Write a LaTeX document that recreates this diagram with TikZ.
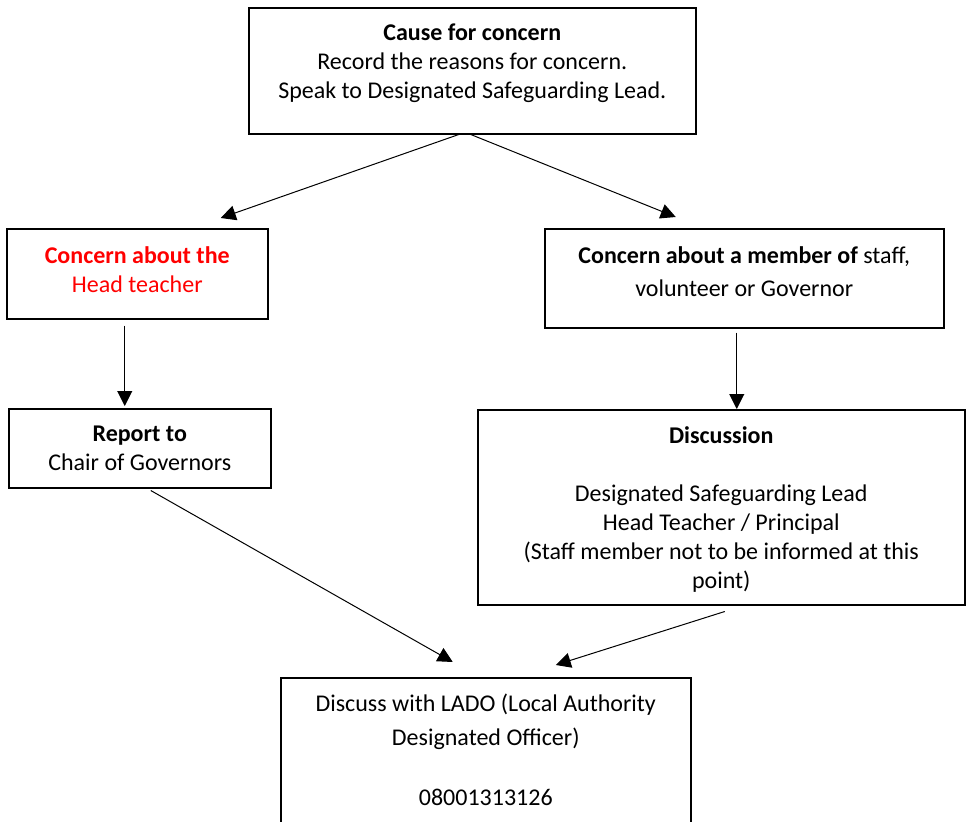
\documentclass[tikz,border=0pt]{standalone}
\usepackage{fontspec}
\setmainfont{Carlito}
\usetikzlibrary{arrows.meta}

\begin{document}
\begin{tikzpicture}[x=1pt, y=-1pt,
    box/.style={draw, line width=1.5pt, anchor=north west, inner sep=0pt},
    txt/.style={anchor=north, align=center, inner sep=0pt, font=\fontsize{24}{29}\selectfont},
    >={Triangle[length=15pt,width=15pt]},
    link/.style={->, line width=1pt}]
        \useasboundingbox (0,0) rectangle (970,822);
        % Boxes
        \node[box, minimum width=447pt, minimum height=126pt] (cause) at (248,7) {};
        \node[box, minimum width=261pt, minimum height=90pt] (head) at (6,228) {};
        \node[box, minimum width=262pt, minimum height=79pt] (report) at (8,408) {};
        \node[box, minimum width=399pt, minimum height=99pt] (member) at (544,228) {};
        \node[box, minimum width=487pt, minimum height=195pt] (discussion) at (477,409) {};
        \node[box, minimum width=410pt, minimum height=170pt] (lado) at (280,677) {};
        % Texts
        \node[txt] (cause-txt) at ([yshift=-17pt]cause.north) {\textbf{Cause for concern}\\Record the reasons for concern.\\Speak to Designated Safeguarding Lead.};
        \node[txt, text=red] (head-txt) at ([yshift=-18pt]head.north) {\textbf{Concern about the}\\Head teacher};
        \node[txt] (report-txt) at ([yshift=-18pt]report.north) {\textbf{Report to}\\Chair of Governors};
        \node[txt] (member-txt) at ([yshift=-18pt]member.north) {\textbf{Concern about a member of} staff,\\[4pt]volunteer or Governor};
        \node[txt] (discussion-txt) at ([yshift=-17pt]discussion.north) {\textbf{Discussion}\\[29pt]Designated Safeguarding Lead\\Head Teacher / Principal\\(Staff member not to be informed at this\\point)};
        \node[txt] (lado-txt) at ([yshift=-17pt]lado.north) {Discuss with LADO (Local Authority\\[5pt]Designated Officer)\\[31pt]08001313126};
        % Arrows
        \draw[link] ([xshift=-13.5pt]cause.south) -- ([xshift=83.5pt,yshift=10pt]head.north);
        \draw[link] ([xshift=-1.5pt]cause.south) -- ([xshift=-68.5pt,yshift=11pt]member.north);
        \draw[link] ([xshift=-12.5pt,yshift=-6pt]head.south) -- ([xshift=-15pt,yshift=2pt]report.north);
        \draw[link] ([xshift=-7.5pt,yshift=-4pt]member.south) -- ([xshift=15.5pt]discussion.north);
        \draw[link] ([xshift=11pt,yshift=-2pt]report.south) -- ([xshift=-33pt,yshift=15pt]lado.north);
        \draw[link] ([xshift=3.5pt,yshift=-6pt]discussion.south) -- ([xshift=70pt,yshift=12pt]lado.north);
\end{tikzpicture}
\end{document}
